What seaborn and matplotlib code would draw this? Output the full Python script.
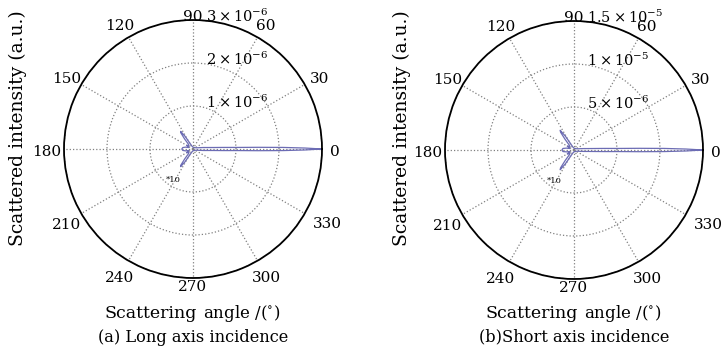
import numpy as np
import matplotlib
matplotlib.use("Agg")
import matplotlib.pyplot as plt
import seaborn as sns

sns.set_style("white")
plt.rcParams['font.family'] = ['DejaVu Serif']
plt.rcParams['mathtext.fontset'] = 'dejavuserif'
plt.rcParams['text.color'] = 'black'

# ---------------- data ----------------
angles_deg = [0, 0.5, 1, 1.5, 2, 3, 4, 6, 8, 12, 20, 40, 70, 100, 112, 118, 122, 125,
              127, 130, 134, 140, 146, 150, 154, 160, 166, 172, 180, 188, 194, 200,
              206, 210, 214, 220, 226, 230, 233, 235, 238, 242, 248, 260, 290, 320,
              340, 348, 352, 354, 356, 357, 358, 358.5, 359, 359.5, 360]

# scattered intensity, in units of 1e-6 (a.u.)
long_axis = [3.0, 2.6, 2.1, 1.5, 1.05, 0.7, 0.5, 0.33, 0.25, 0.15, 0.08, 0.05, 0.04,
             0.05, 0.08, 0.15, 0.35, 0.5, 0.47, 0.3, 0.15, 0.12, 0.15, 0.17, 0.12,
             0.1, 0.18, 0.24, 0.26, 0.24, 0.18, 0.1, 0.12, 0.17, 0.15, 0.12, 0.15,
             0.3, 0.47, 0.5, 0.35, 0.15, 0.08, 0.05, 0.04, 0.05, 0.08, 0.15, 0.25,
             0.33, 0.5, 0.7, 1.05, 1.5, 2.1, 2.6, 3.0]

short_axis = [15.0, 13.0, 10.5, 7.5, 5.2, 3.5, 2.5, 1.6, 1.2, 0.75, 0.4, 0.25, 0.2,
              0.25, 0.4, 0.8, 1.9, 2.8, 2.6, 1.6, 0.8, 0.6, 0.8, 0.9, 0.6, 0.5,
              0.9, 1.3, 1.4, 1.3, 0.9, 0.5, 0.6, 0.9, 0.8, 0.6, 0.8, 1.6, 2.6, 2.8,
              1.9, 0.8, 0.4, 0.25, 0.2, 0.25, 0.4, 0.75, 1.2, 1.6, 2.5, 3.5, 5.2,
              7.5, 10.5, 13.0, 15.0]

long_rings = [1, 2, 3]
long_ring_labels = [r'$1\times10^{-6}$', r'$2\times10^{-6}$', r'$3\times10^{-6}$']
short_rings = [5, 10, 15]
short_ring_labels = [r'$5\times10^{-6}$', r'$1\times10^{-5}$', r'$1.5\times10^{-5}$']

angle_ticks = list(range(0, 360, 30))
angle_labels = [str(a) for a in angle_ticks]

ylabel = "Scattered intensity (a.u.)"
xlabel_main = "Scattering"
xlabel_rest = r"angle /($^{\circ}$)"
captions = ["(a) Long axis incidence", "(b)Short axis incidence"]

UNIT = 1e-6
LINE_COLOR = "#6c6cb4"
LABEL_RADIUS = {0: 142, 90: 135, 270: 135}
LABEL_OFFSET = {330: (134, 75)}

W, H = 721, 349
fig = plt.figure(figsize=(W / 100, H / 100), dpi=100)


def ftext(px, py, s, **kw):
    fig.text(px / W, 1 - py / H, s, **kw)


def make_panel(cx, cy, rad, values, rings, ring_labels, caption, ylab_x):
    ax = fig.add_axes([(cx - rad) / W, (H - cy - rad) / H, 2 * rad / W, 2 * rad / H],
                      projection='polar')
    th = np.deg2rad(angles_deg)
    rr = np.array(values) * UNIT
    sns.lineplot(x=th, y=rr, ax=ax, sort=False, estimator=None,
                 color=LINE_COLOR, lw=0.9)
    rmax = rings[-1] * UNIT
    ax.set_ylim(0, rmax)
    ax.set_xticks(np.deg2rad(angle_ticks))
    ax.set_xticklabels([])
    ax.set_yticks([r * UNIT for r in rings])
    ax.set_yticklabels([])
    ax.grid(True, linestyle=':', color='#808080', lw=0.9)
    ax.spines['polar'].set_linewidth(1.3)
    ax.spines['polar'].set_color('black')
    ax.set_xlabel('')
    ax.set_ylabel('')
    # angle labels
    for a, lab in zip(angle_ticks, angle_labels):
        if a in LABEL_OFFSET:
            dx, dy = LABEL_OFFSET[a]
        else:
            rl = LABEL_RADIUS.get(a, 146)
            t = np.deg2rad(a)
            dx, dy = rl * np.cos(t), -rl * np.sin(t) + 3
        ftext(cx + dx, cy + dy, lab, ha='center', va='center', fontsize=11)
    # ring labels
    for r, lab in zip(rings, ring_labels):
        rp = rad * r / rings[-1]
        ftext(cx + 13, cy - rp - 4, lab, ha='left', va='center', fontsize=10.5)
    # truncated scale marker
    ax.text(np.deg2rad(237), 0.85 * rings[0] * UNIT, "*10", fontsize=6,
            ha='center', va='center')
    # labels
    ftext(ylab_x, 128, ylabel, rotation=90, ha='center', va='center', fontsize=13.5)
    ftext(cx + 4, 313, xlabel_main, ha='right', va='center', fontsize=12.5)
    ftext(cx + 10, 313, xlabel_rest, ha='left', va='center', fontsize=12)
    ftext(cx, 337, caption, ha='center', va='center', fontsize=11.7)
    return ax


make_panel(193, 149, 129, long_axis, long_rings, long_ring_labels, captions[0], 18)
make_panel(574, 150, 129, short_axis, short_rings, short_ring_labels, captions[1], 402)

fig.savefig("out.png", dpi=100)
